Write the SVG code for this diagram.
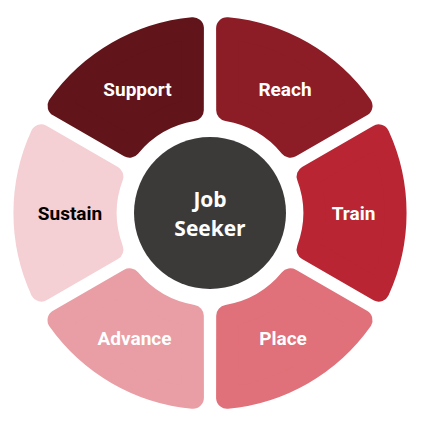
<svg xmlns="http://www.w3.org/2000/svg" width="424" height="422" viewBox="0 0 424 422">
<style>
.seg{stroke-width:22;stroke-linejoin:round}
.lbl{font-family:Roboto,"Liberation Sans",sans-serif;font-weight:bold;font-size:19px;text-anchor:middle;fill:#ffffff}
.ctr{font-family:"Open Sans","Liberation Sans",sans-serif;font-weight:bold;font-size:21px;text-anchor:middle;fill:#ffffff}
</style>
<defs>
<path id="seg" d="M97.6,-36.5 L168.6,-77.6 A186,186 0 0 1 168.6,77.6 L97.6,36.5 A104,104 0 0 0 97.6,-36.5 Z"/>
</defs>
<rect width="424" height="422" fill="#ffffff"/>
<g id="train">
<use href="#seg" class="seg" fill="#b92533" stroke="#b92533" transform="translate(210,213)"/>
<text class="lbl" x="353.5" y="220">Train</text>
</g>
<g id="place">
<use href="#seg" class="seg" fill="#e07079" stroke="#e07079" transform="translate(210,213) rotate(60)"/>
<text class="lbl" x="283" y="345">Place</text>
</g>
<g id="advance">
<use href="#seg" class="seg" fill="#e99da4" stroke="#e99da4" transform="translate(210,213) rotate(120)"/>
<text class="lbl" x="134.5" y="345">Advance</text>
</g>
<g id="sustain">
<use href="#seg" class="seg" fill="#f4cfd3" stroke="#f4cfd3" transform="translate(210,213) rotate(180)"/>
<text class="lbl" x="70" y="220" style="fill:#000000">Sustain</text>
</g>
<g id="support">
<use href="#seg" class="seg" fill="#611419" stroke="#611419" transform="translate(210,213) rotate(240)"/>
<text class="lbl" x="137.5" y="96">Support</text>
</g>
<g id="reach">
<use href="#seg" class="seg" fill="#8c1c26" stroke="#8c1c26" transform="translate(210,213) rotate(300)"/>
<text class="lbl" x="285" y="96">Reach</text>
</g>
<g id="job-seeker">
<circle cx="210" cy="213" r="76" fill="#3c3a39"/>
<text class="ctr" x="210" y="207">Job</text>
<text class="ctr" x="210" y="236">Seeker</text>
</g>
<g id="connectors"/>
</svg>
